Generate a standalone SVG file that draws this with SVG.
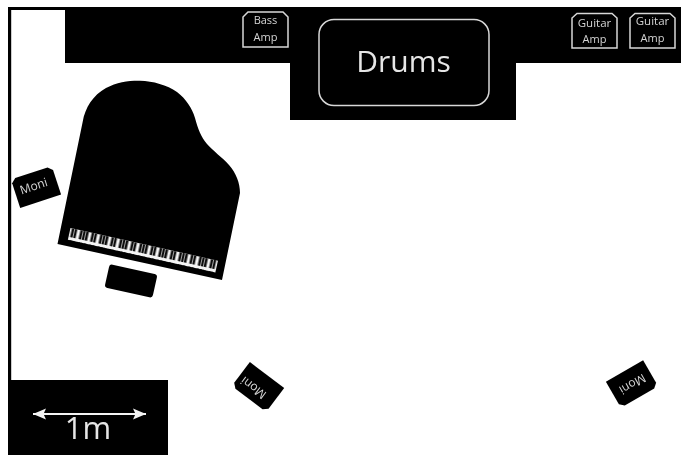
<svg xmlns="http://www.w3.org/2000/svg" width="681" height="455" viewBox="0 0 681 455">
<style>
.blk{fill:#000}
.t{font-family:"Open Sans","Noto Sans",sans-serif;fill:#e6e6e6;text-anchor:middle}
.s{font-size:11px;fill:#d4d4d4}
.g{font-size:11.500px;fill:#d4d4d4}
.m{font-size:12px;fill:#d4d4d4}
.amp{fill:#000;stroke:#d8d8d8;stroke-width:1.5}
</style>
<defs>
<filter id="soft" x="-5%" y="-5%" width="110%" height="110%"><feGaussianBlur stdDeviation="0.4"/></filter>
<path id="mon" class="blk" d="M-21.5,15 L21.5,15 L21.5,-11 L17,-15 L-17,-15 L-21.5,-11 Z"/>
<pattern id="keys" patternUnits="userSpaceOnUse" width="20.33" height="12">
<rect width="20.33" height="12" fill="#f4f4f4"/>
<rect x="1.500" y="0" width="2.500" height="9" fill="#111"/>
<rect x="4.600" y="0" width="2.500" height="9" fill="#111"/>
<rect x="10.200" y="0" width="2.500" height="9" fill="#111"/>
<rect x="13.300" y="0" width="2.500" height="9" fill="#111"/>
<rect x="16.400" y="0" width="2.500" height="9" fill="#111"/>
</pattern>
<marker id="ah" markerUnits="userSpaceOnUse" markerWidth="14" markerHeight="12" refX="13" refY="6" orient="auto-start-reverse"><path d="M0,0.500 L13,6 L0,11.500 L2.500,6 Z" fill="#f4f4f4"/></marker>
</defs>
<rect width="681" height="455" fill="#fff"/>
<g filter="url(#soft)">
<g id="walls">
<path class="blk" d="M8,7 H65 V10 H11.200 V382 H8 Z"/>
<path class="blk" d="M65,7 H681 V63 H516 V120 H290 V63 H65 Z"/>
</g>
<g id="scale">
<rect class="blk" x="8" y="380" width="160" height="75"/>
<text class="t" x="88" y="439" font-size="31">1m</text>
</g>
<g id="drums">
<rect x="319" y="19.5" width="170" height="86" rx="15" fill="#000" stroke="#d8d8d8" stroke-width="1.5"/>
<text class="t" x="403.500" y="72" font-size="30">Drums</text>
</g>
<g id="bass-amp">
<path class="amp" d="M243,47 H288 V17 L283,12 H248 L243,17 Z"/>
<text class="t s" x="265.500" y="24">Bass</text>
<text class="t s" x="265.500" y="41">Amp</text>
</g>
<g id="guitar-amp-1">
<path class="amp" d="M572,48 H617 V18 L612,13.500 H577 L572,18 Z"/>
<text class="t g" x="594.500" y="26.500">Guitar</text>
<text class="t s" x="594.500" y="43">Amp</text>
</g>
<g id="guitar-amp-2">
<path class="amp" d="M630,48 H675 V18 L670,13.500 H635 L630,18 Z"/>
<text class="t g" x="652.500" y="24.500">Guitar</text>
<text class="t s" x="652.500" y="41.500">Amp</text>
</g>
<g id="piano">
<path fill="#050505" d="M57.500,244 L82.700,121.700 C85,108 93,95 106,88 C117,82 129,80.500 140,80.700 C153,81 167,85 177,92 C186,99 192,108 195,118 C198,129 201,137 207,144 C213,151 222,157 229,165 C236,173 240,183 240,193 L222,280 Z"/>
<rect x="0" y="0" width="151" height="12" fill="url(#keys)" transform="translate(70.500,228) rotate(12.500)"/>
</g>
<g id="bench">
<rect class="blk" x="-24.500" y="-12" width="49" height="24" rx="3" transform="translate(131,281) rotate(12.500)"/>
</g>
<g id="monitor-left">
<use href="#mon" transform="translate(36,187) rotate(-18)"/>
<text class="t m" transform="translate(35,190) rotate(-18)">Moni</text>
</g>
<g id="monitor-bottom">
<use href="#mon" transform="translate(258,387) rotate(217)"/>
<text class="t m" transform="translate(256,384.500) rotate(217)">Moni</text>
</g>
<g id="monitor-right">
<use href="#mon" transform="translate(632,384) rotate(150)"/>
<text class="t m" transform="translate(630.500,380.500) rotate(150)">Moni</text>
</g>
<g id="connectors">
<line x1="33" y1="414" x2="146" y2="414" stroke="#f4f4f4" stroke-width="1.800" marker-start="url(#ah)" marker-end="url(#ah)"/>
</g>
</g>
</svg>
